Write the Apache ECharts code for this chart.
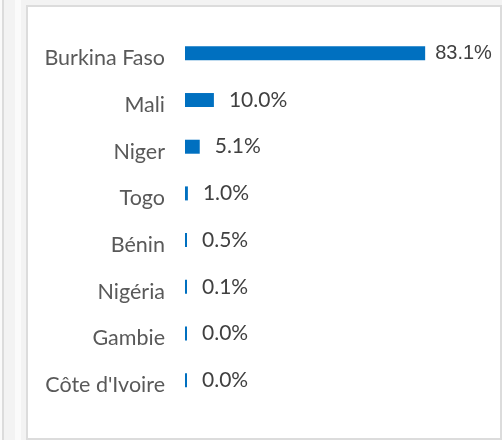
<!DOCTYPE html>
<html>
<head>
<meta charset="utf-8">
<script src="https://cdn.jsdelivr.net/npm/echarts@6/dist/echarts.min.js"></script>
<style>
  html, body { margin: 0; padding: 0; background: #f3f3f3; }
  #leftCard { position: absolute; left: -20px; top: 0; width: 22px; height: 440px; background: #fafafa; border-right: 2px solid #dcdcdc; }
  #strip { position: absolute; left: 15px; top: 0; width: 6px; height: 440px; background: #fbfbfb; }
  #card { position: absolute; left: 26px; top: 5px; width: 472px; height: 431px; background: #fff; border: 2px solid #dcdcdc; }
  #main { position: absolute; left: 0; top: 0; width: 502px; height: 440px; }
</style>
</head>
<body>
<div id="leftCard"></div>
<div id="strip"></div>
<div id="card"></div>
<div id="main"></div>
<script>
// pays et part (%)
var countries = ['Burkina Faso', 'Mali', 'Niger', 'Togo', 'Bénin', 'Nigéria', 'Gambie', "Côte d'Ivoire"];
var shares = [83.1, 10.0, 5.1, 1.0, 0.5, 0.1, 0.0, 0.0];

var myChart = echarts.init(document.getElementById('main'));

var option = {
    animation: false,
    grid: {
        left: 185,
        top: 30,
        width: 289,
        height: 373.5
    },
    xAxis: {
        type: 'value',
        min: 0,
        max: 100,
        show: false
    },
    yAxis: {
        type: 'category',
        inverse: true,
        data: countries,
        axisLine: { show: false },
        axisTick: { show: false },
        axisLabel: {
            margin: 20,
            formatter: function (v) { return '{c|' + v + '}'; },
            rich: {
                c: {
                    fontFamily: 'Lato',
                    fontSize: 21.5,
                    color: '#595959',
                    padding: [10, 0, 0, 0]
                }
            }
        }
    },
    series: [{
        type: 'bar',
        data: shares.map(function (v, i) {
            if (i === 0) {
                return { value: v, label: { distance: 10, fontFamily: 'Liberation Sans', fontSize: 20 } };
            }
            return v;
        }),
        barWidth: 14,
        barMinHeight: 2,
        itemStyle: { color: '#0070c0' },
        label: {
            show: true,
            position: 'right',
            distance: 15,
            fontFamily: 'Lato',
            fontSize: 21,
            color: '#404040',
            formatter: function (p) { return p.value.toFixed(1) + '%'; }
        }
    }]
};

myChart.setOption(option);
</script>
</body>
</html>
